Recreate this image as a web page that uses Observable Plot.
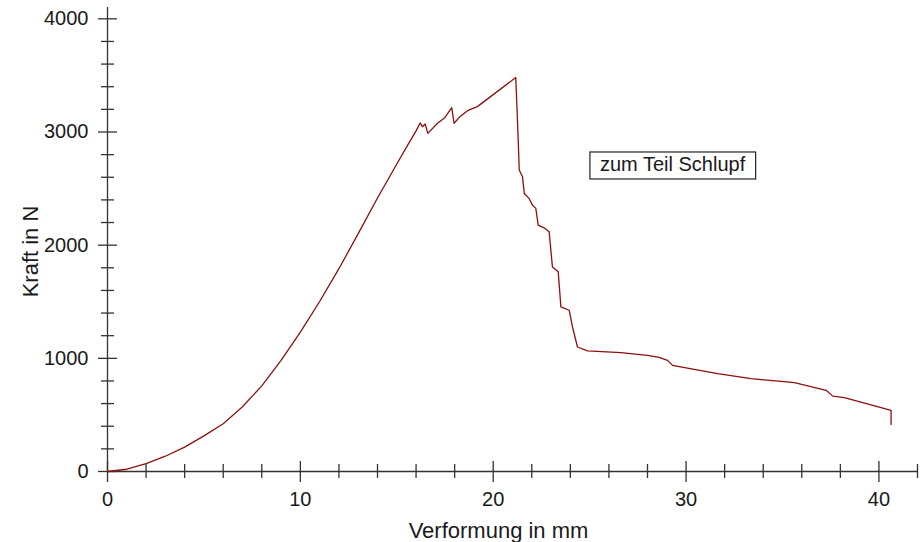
<!DOCTYPE html>
<html>
<head>
<meta charset="utf-8">
<script src="https://cdn.jsdelivr.net/npm/d3@7"></script>
<script src="https://cdn.jsdelivr.net/npm/@observablehq/plot@0.6"></script>
<style>
  html, body { margin: 0; padding: 0; background: #fff; }
  #chart svg { display: block; }
</style>
</head>
<body>
<div id="chart"></div>
<script>
// Verformung (mm) and Kraft (N)
const deformation = [0,1,2,3,4,5,6,7,8,9,10,11,12,13,14,15,15.55,16,16.21,16.33,16.47,16.61,17.11,17.46,17.85,17.97,18.3,18.67,19.18,20,21.17,21.29,21.35,21.52,21.61,21.86,22.03,22.21,22.33,22.64,22.9,23.07,23.37,23.51,23.94,24.11,24.37,24.89,26.62,28.0,28.6,29.04,29.3,30.42,31.64,33.37,35.62,37.26,37.61,38.21,40.63,40.63];
const force = [0,20,70,135,215,315,422,572,757,982,1232,1502,1792,2102,2417,2717,2879,3010,3080,3047,3071,2988,3077,3121,3215,3077,3140,3188,3224,3330,3481,2958,2664,2604,2457,2413,2354,2325,2177,2153,2118,1808,1764,1454,1425,1277,1100,1065,1050,1027,1008,982,938,903,864,820,785,717,666,652,540,416];

const xMajor = [0,10,20,30,40];
const xMinor = [2,4,6,8,12,14,16,18,22,24,26,28,32,34,36,38,42];
const yMajor = [0,1000,2000,3000,4000];
const yMinor = [200,400,600,800,1200,1400,1600,1800,2200,2400,2600,2800,3200,3400,3600,3800];

const xTitle = "Verformung in mm";
const yTitle = "Kraft in N";
const noteText = ["zum Teil Schlupf"];
const noteX = [29.3];
const noteY = [2712];

const curve = deformation.map((d, i) => ({x: d, y: force[i]}));
const notes = noteText.map((t, i) => ({t, x: noteX[i], y: noteY[i]}));

const axisColor = "#333";
const textColor = "#1a1a1a";
const font = "'Liberation Sans', Arial, Helvetica, sans-serif";

const chart = Plot.plot({
  width: 923,
  height: 542,
  marginLeft: 107,
  marginRight: 6,
  marginTop: 7,
  marginBottom: 71,
  style: {fontFamily: font, background: "#fff", color: textColor},
  x: {domain: [0, 42]},
  y: {domain: [0, 4100]},
  marks: [
    // axis lines
    Plot.ruleY([0], {stroke: axisColor, strokeWidth: 1.3}),
    Plot.ruleX([0], {stroke: axisColor, strokeWidth: 1.3}),
    // x ticks
    Plot.ruleX(xMajor, {x: d => d, y1: 0, y2: 0, insetTop: -10, insetBottom: -11, stroke: axisColor, strokeWidth: 1.3}),
    Plot.ruleX(xMinor, {x: d => d, y1: 0, y2: 0, insetTop: -7, insetBottom: -7, stroke: axisColor, strokeWidth: 1.3}),
    // y ticks
    Plot.ruleY(yMajor, {y: d => d, x1: 0, x2: 0, insetLeft: -9, insetRight: -10, stroke: axisColor, strokeWidth: 1.3}),
    Plot.ruleY(yMinor, {y: d => d, x1: 0, x2: 0, insetLeft: -6, insetRight: -7, stroke: axisColor, strokeWidth: 1.3}),
    // tick labels
    Plot.axisX(xMajor, {tickSize: 0, tickPadding: 20, fontSize: 20, fill: textColor, label: null, tickFormat: d3.format("d")}),
    Plot.axisY(yMajor, {tickSize: 0, tickPadding: 19, fontSize: 20, fill: textColor, label: null, tickFormat: d3.format("d")}),
    // axis titles
    Plot.text([xTitle], {text: d => d, frameAnchor: "bottom", textAnchor: "middle", dx: -14, dy: 59, fontSize: 22, fill: textColor, lineAnchor: "middle"}),
    Plot.text([yTitle], {text: d => d, frameAnchor: "left", textAnchor: "middle", dx: -77, dy: 12, rotate: -90, fontSize: 22, fill: textColor, lineAnchor: "middle"}),
    // data
    Plot.line(curve, {x: "x", y: "y", stroke: "#8b1010", strokeWidth: 1.3}),
    // annotation
    Plot.text(notes, {x: "x", y: "y", text: "t", fontSize: 20, fill: textColor, className: "note"})
  ]
});

document.getElementById("chart").appendChild(chart);

// draw the box around the annotation text
chart.querySelectorAll("g.note text").forEach(t => {
  const b = t.getBBox();
  const r = document.createElementNS("http://www.w3.org/2000/svg", "rect");
  r.setAttribute("x", b.x - 10);
  r.setAttribute("y", b.y - 1);
  r.setAttribute("width", b.width + 20);
  r.setAttribute("height", b.height + 5);
  r.setAttribute("fill", "none");
  r.setAttribute("stroke", "#222");
  r.setAttribute("stroke-width", 1.2);
  const tr = t.getAttribute("transform");
  if (tr) r.setAttribute("transform", tr);
  t.parentNode.insertBefore(r, t);
});
</script>
</body>
</html>
